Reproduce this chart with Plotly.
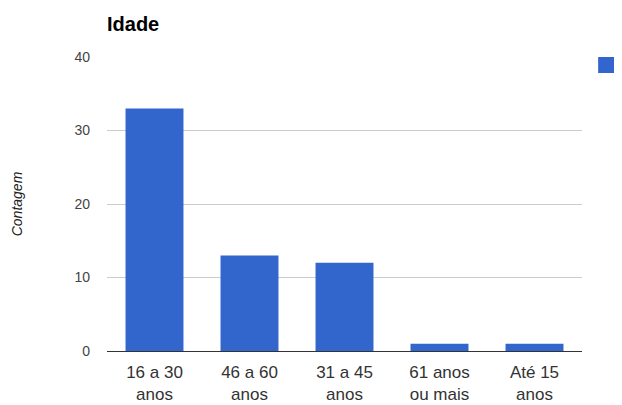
import plotly.graph_objects as go

categories = ["16 a 30<br>anos", "46 a 60<br>anos", "31 a 45<br>anos", "61 anos<br>ou mais", "Até 15<br>anos"]
values = [33, 13, 12, 1, 1]
y_ticks = [0, 10, 20, 30, 40]

# page body adds an 8px offset; margins compensate so the plot lands where the reference has it
W, H = 622, 405
L, T, R, B = 99, 49, 574, 343

fig = go.Figure()
fig.add_trace(go.Bar(x=categories, y=values, marker=dict(color="#3366cc", line=dict(width=0)),
                     name="Contagem", showlegend=False))

fig.update_layout(
    width=W, height=H,
    margin=dict(l=L, r=W - R, t=T, b=H - B),
    paper_bgcolor="white", plot_bgcolor="white",
    font=dict(family="Liberation Sans, Arial, sans-serif", color="#444444"),
    title=dict(text="<b>Idade</b>", x=L / W, xanchor="left", y=1 - 16 / H, yanchor="middle",
               font=dict(size=20, color="#000000")),
    bargap=0.39,
    shapes=[dict(type="rect", xref="paper", yref="paper", x0=1.034, x1=1.2, y0=0.9456, y1=1.0,
                 fillcolor="#3366cc", line=dict(width=0))],
)
fig.update_xaxes(tickfont=dict(size=17, color="#333333"), showgrid=False, showline=False,
                 ticks="", ticklabelstandoff=9, automargin=False)
fig.update_yaxes(range=[0, 40], tickvals=y_ticks, showgrid=True, gridcolor="#cccccc", gridwidth=1,
                 zeroline=True, zerolinecolor="#333333", zerolinewidth=1,
                 tickfont=dict(size=14, color="#444444"), ticks="", ticklabelstandoff=16,
                 title=dict(text="<i>Contagem</i>", font=dict(size=14, color="#222222"), standoff=48),
                 automargin=False)

fig.write_html("out.html")
